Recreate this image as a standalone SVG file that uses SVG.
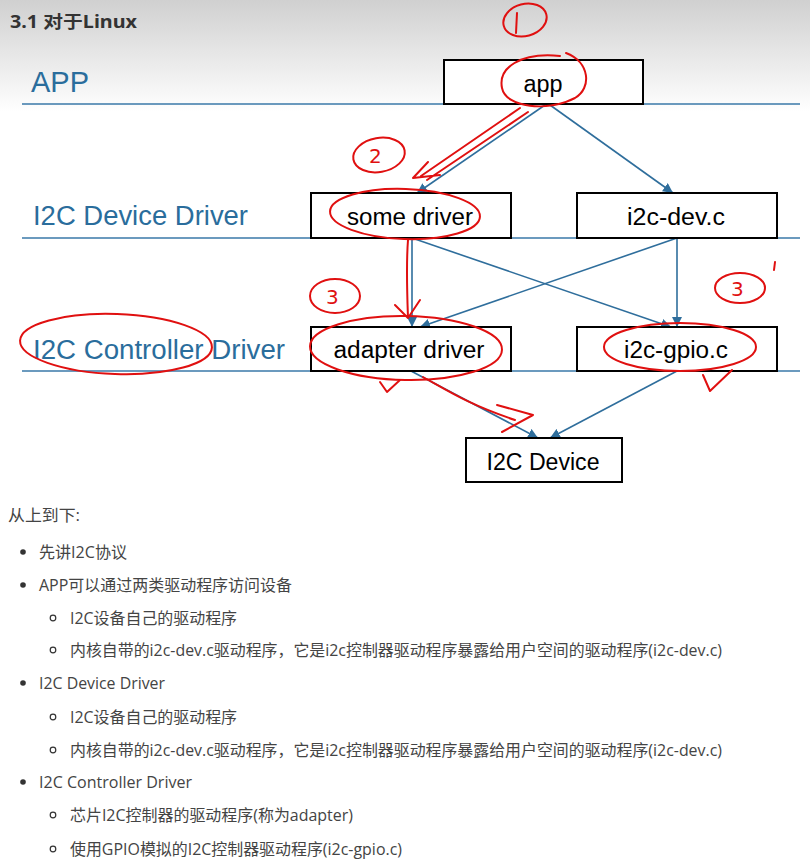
<svg xmlns="http://www.w3.org/2000/svg" width="810" height="866" viewBox="0 0 810 866">
<defs>
<linearGradient id="bg" x1="0" y1="0" x2="0" y2="1">
<stop offset="0" stop-color="#d0d0d0"/>
<stop offset="1" stop-color="#ffffff"/>
</linearGradient>
<marker id="ah" viewBox="0 0 10 10" refX="10" refY="5" markerWidth="10" markerHeight="10" markerUnits="userSpaceOnUse" orient="auto">
<path d="M0,0 L10,5 L0,10 z" fill="#2f6e9c"/>
</marker>
<style>
.lane{font-family:"Liberation Sans",Arial,sans-serif;fill:#2a6d9c}
.lane-line{stroke:#3a78a8;stroke-width:1.6}
.box{fill:#fff;stroke:#000;stroke-width:2}
.bt{font-family:"Liberation Sans",Arial,sans-serif;font-size:23px;fill:#000;text-anchor:middle}
.conn{stroke:#2f6e9c;stroke-width:1.6;fill:none;marker-end:url(#ah)}
.red{stroke:#e01010;stroke-width:2;fill:none;stroke-linecap:round;stroke-linejoin:round}
.rt{font-family:"DejaVu Sans",sans-serif;fill:#e01010;font-size:20px}
.body{font-family:"Open Sans","Noto Sans CJK SC",sans-serif;font-size:16px;fill:#444}
.dot{fill:#333}
.ring{fill:none;stroke:#333;stroke-width:1.2}
</style>
</defs>
<rect x="0" y="0" width="810" height="866" fill="#fff"/>
<rect x="0" y="0" width="810" height="112" fill="url(#bg)"/>
<text x="10" y="28" font-family="'Noto Sans','Noto Sans CJK SC',sans-serif" font-weight="bold" font-size="17" fill="#333" textLength="127" lengthAdjust="spacingAndGlyphs">3.1 对于Linux</text>

<g id="lanes">
<text class="lane" x="31" y="92" font-size="30" textLength="58" lengthAdjust="spacingAndGlyphs">APP</text>
<line class="lane-line" x1="22" y1="104" x2="800" y2="104" stroke-width="2.2"/>
<text class="lane" x="33" y="225" font-size="27" textLength="215" lengthAdjust="spacingAndGlyphs">I2C Device Driver</text>
<line class="lane-line" x1="22" y1="238" x2="800" y2="238"/>
<text class="lane" x="33" y="359" font-size="27" textLength="252" lengthAdjust="spacingAndGlyphs">I2C Controller Driver</text>
<line class="lane-line" x1="22" y1="371" x2="800" y2="371"/>
</g>

<g id="connectors">
<line class="conn" x1="545" y1="105" x2="417" y2="193"/>
<line class="conn" x1="550" y1="105" x2="673" y2="193"/>
<line class="conn" x1="412" y1="238" x2="412" y2="327"/>
<line class="conn" x1="412" y1="238" x2="671" y2="327"/>
<line class="conn" x1="677" y1="238" x2="420" y2="327"/>
<line class="conn" x1="677" y1="238" x2="677" y2="327"/>
<line class="conn" x1="411" y1="371" x2="538" y2="438"/>
<line class="conn" x1="677" y1="371" x2="550" y2="438"/>
</g>

<g id="app"><rect class="box" x="444" y="60" width="199" height="44"/><text class="bt" x="543" y="92" textLength="39" lengthAdjust="spacingAndGlyphs">app</text></g>
<g id="some-driver"><rect class="box" x="311" y="193" width="200" height="45"/><text class="bt" x="410" y="225" textLength="126" lengthAdjust="spacingAndGlyphs">some driver</text></g>
<g id="i2c-dev"><rect class="box" x="577" y="193" width="200" height="45"/><text class="bt" x="676" y="225" textLength="98" lengthAdjust="spacingAndGlyphs">i2c-dev.c</text></g>
<g id="adapter-driver"><rect class="box" x="311" y="327" width="200" height="44"/><text class="bt" x="409" y="358" textLength="151" lengthAdjust="spacingAndGlyphs">adapter driver</text></g>
<g id="i2c-gpio"><rect class="box" x="577" y="327" width="200" height="44"/><text class="bt" x="676" y="358" textLength="104" lengthAdjust="spacingAndGlyphs">i2c-gpio.c</text></g>
<g id="i2c-device"><rect class="box" x="466" y="438" width="156" height="44"/><text class="bt" x="543" y="470" textLength="113" lengthAdjust="spacingAndGlyphs">I2C Device</text></g>

<g id="annotations">
<ellipse class="red" cx="525" cy="20" rx="22" ry="16" transform="rotate(-15 525 20)"/>
<path class="red" d="M517,13 L516,33"/>
<path class="red" d="M560,56 C520,52 498,68 502,88 C506,108 548,112 575,98 C592,88 590,62 566,53"/>
<path class="red" d="M520,108 L421,176 M528,112 L427,180 M413,178 L440,175 M413,178 L428,162"/>
<ellipse class="red" cx="379" cy="155" rx="26" ry="17" transform="rotate(-10 379 155)"/>
<text class="rt" x="369" y="163">2</text>
<ellipse class="red" cx="405" cy="214" rx="75" ry="25" transform="rotate(2 405 214)"/>
<path class="red" d="M408,240 C406,265 407,290 408,318 M395,305 L408,318 L420,300"/>
<ellipse class="red" cx="335" cy="296" rx="25" ry="17"/>
<text class="rt" x="326" y="304">3</text>
<ellipse class="red" cx="116" cy="344" rx="96" ry="30" transform="rotate(2 116 344)"/>
<ellipse class="red" cx="406" cy="348" rx="96" ry="32" transform="rotate(1 406 348)"/>
<path class="red" d="M380,382 L387,392 L400,380"/>
<path class="red" d="M423,377 C450,392 470,405 515,420 M497,405 L533,415 L502,432"/>
<ellipse class="red" cx="740" cy="288" rx="25" ry="15"/>
<text class="rt" x="731" y="296">3</text>
<path class="red" d="M775,262 L774,270"/>
<ellipse class="red" cx="680" cy="347" rx="76" ry="24"/>
<path class="red" d="M703,375 L710,391 L732,370"/>
</g>

<g id="text-body">
<text class="body" x="8" y="521" textLength="72" lengthAdjust="spacingAndGlyphs">从上到下:</text>
<circle class="dot" cx="23" cy="552" r="2.8"/>
<text class="body" x="39" y="558" textLength="88" lengthAdjust="spacingAndGlyphs">先讲I2C协议</text>
<circle class="dot" cx="23" cy="585" r="2.8"/>
<text class="body" x="39" y="591" textLength="253" lengthAdjust="spacingAndGlyphs">APP可以通过两类驱动程序访问设备</text>
<circle class="ring" cx="53" cy="618" r="2.8"/>
<text class="body" x="70" y="624" textLength="167" lengthAdjust="spacingAndGlyphs">I2C设备自己的驱动程序</text>
<circle class="ring" cx="53" cy="650" r="2.8"/>
<text class="body" x="70" y="656" textLength="652" lengthAdjust="spacingAndGlyphs">内核自带的i2c-dev.c驱动程序，它是i2c控制器驱动程序暴露给用户空间的驱动程序(i2c-dev.c)</text>
<circle class="dot" cx="23" cy="683" r="2.8"/>
<text class="body" x="39" y="689" textLength="126" lengthAdjust="spacingAndGlyphs">I2C Device Driver</text>
<circle class="ring" cx="53" cy="717" r="2.8"/>
<text class="body" x="70" y="723" textLength="167" lengthAdjust="spacingAndGlyphs">I2C设备自己的驱动程序</text>
<circle class="ring" cx="53" cy="750" r="2.8"/>
<text class="body" x="70" y="756" textLength="652" lengthAdjust="spacingAndGlyphs">内核自带的i2c-dev.c驱动程序，它是i2c控制器驱动程序暴露给用户空间的驱动程序(i2c-dev.c)</text>
<circle class="dot" cx="23" cy="782" r="2.8"/>
<text class="body" x="39" y="788" textLength="153" lengthAdjust="spacingAndGlyphs">I2C Controller Driver</text>
<circle class="ring" cx="53" cy="815" r="2.8"/>
<text class="body" x="70" y="821" textLength="283" lengthAdjust="spacingAndGlyphs">芯片I2C控制器的驱动程序(称为adapter)</text>
<circle class="ring" cx="53" cy="849" r="2.8"/>
<text class="body" x="70" y="855" textLength="332" lengthAdjust="spacingAndGlyphs">使用GPIO模拟的I2C控制器驱动程序(i2c-gpio.c)</text>
</g>
</svg>
